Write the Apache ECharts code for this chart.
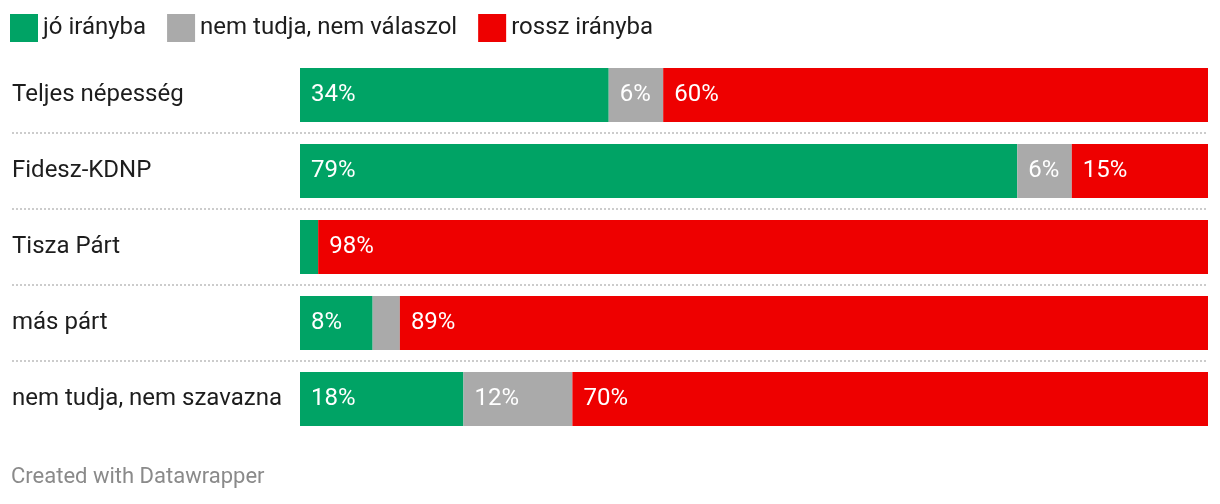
<!DOCTYPE html>
<html><head><meta charset="utf-8">
<script src="https://cdn.jsdelivr.net/npm/echarts@6/dist/echarts.min.js"></script>
<style>html,body{margin:0;padding:0;background:#fff}#c{width:1220px;height:504px}</style>
</head><body><div id="c"></div>
<script>
const categories = ['Teljes népesség', 'Fidesz-KDNP', 'Tisza Párt', 'más párt', 'nem tudja, nem szavazna'];
const seriesNames = ['jó irányba', 'nem tudja, nem válaszol', 'rossz irányba'];
const joIranyba = [34, 79, 2, 8, 18];
const nemTudja = [6, 6, 0, 3, 12];
const rosszIranyba = [60, 15, 98, 89, 70];
const colors = ['#00a365', '#aaaaaa', '#ee0000'];

const FONT = 'Roboto';
const chart = echarts.init(document.getElementById('c'), null, {renderer: 'canvas'});
const allData = [joIranyba, nemTudja, rosszIranyba];
const series = allData.map((d, i) => ({
  name: seriesNames[i], type: 'bar', stack: 'total', data: d,
  xAxisIndex: 0, yAxisIndex: 0, barWidth: 54,
  itemStyle: {color: colors[i]},
  label: {show: true, position: 'insideLeft', distance: 11, color: '#fff', fontSize: 24, fontFamily: FONT,
    formatter: p => p.value >= 5 ? p.value + '%' : ''},
  emphasis: {disabled: true}, animation: false
}));
chart.setOption({
  animation: false,
  textStyle: {fontFamily: FONT},
  legend: {left: 5, top: 9, itemWidth: 28, itemHeight: 28, itemGap: 21, icon: 'rect',
    data: seriesNames, textStyle: {fontSize: 24, color: '#1d1d1d', fontFamily: FONT}, selectedMode: false},
  title: {text: 'Created with Datawrapper', left: 11, top: 466, padding: 0,
    textStyle: {fontSize: 22, fontWeight: 'normal', color: '#8a8a8a', fontFamily: FONT}},
  grid: [
    {left: 300, right: 12, top: 57, height: 380, containLabel: false},
    {left: 12, right: 12, top: 57, height: 380, containLabel: false}
  ],
  xAxis: [
    {gridIndex: 0, type: 'value', min: 0, max: 100, show: false},
    {gridIndex: 1, type: 'value', min: 0, max: 100, show: false}
  ],
  yAxis: [
    {gridIndex: 0, type: 'category', data: categories, inverse: true,
      axisLine: {show: false}, axisTick: {show: false}, splitLine: {show: false},
      axisLabel: {align: 'left', margin: 288, fontSize: 24, color: '#1d1d1d', fontFamily: FONT, padding: [8, 0, 0, 0]}},
    {gridIndex: 1, type: 'category', data: categories, inverse: true,
      axisLine: {show: false}, axisTick: {show: false}, axisLabel: {show: false},
      splitLine: {show: true, lineStyle: {color: ['transparent', '#cccccc', '#cccccc', '#cccccc', '#cccccc', 'transparent'], width: 2, type: [2, 2]}}}
  ],
  series: series
});
</script></body></html>
